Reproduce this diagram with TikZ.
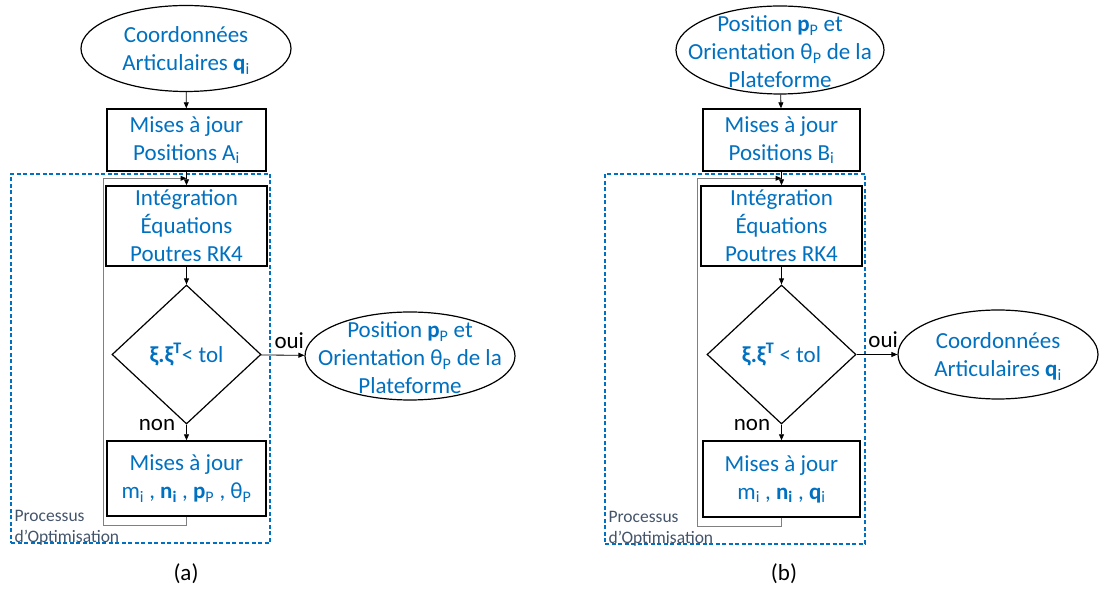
\documentclass[tikz,border=0pt]{standalone}
\usepackage{fontspec}
\setmainfont{Carlito}
\usepackage{tikz}
\usetikzlibrary{shapes.geometric,arrows.meta}
\definecolor{txtblue}{HTML}{0070C0}
\definecolor{notegray}{HTML}{44546A}
\definecolor{loopgray}{HTML}{808080}

\begin{document}
\begin{tikzpicture}[x=1pt, y=1pt,
  term/.style={ellipse, draw, line width=1.2pt, inner sep=0pt},
  termtxt/.style={align=center, text=txtblue, font=\fontsize{23}{28}\selectfont, inner sep=0pt, yshift=-2pt},
  proc/.style={draw, line width=1.4pt, minimum width=159pt, align=center, text=txtblue, font=\fontsize{23}{28}\selectfont, inner sep=1pt},
  dec/.style={diamond, draw, line width=1.2pt, minimum width=149pt, minimum height=139pt, inner sep=0pt, text=txtblue, font=\fontsize{23}{28}\selectfont},
  frame/.style={draw=txtblue, line width=1.2pt, dash pattern=on 4pt off 2.5pt, inner sep=0pt},
  note/.style={align=left, text=notegray, font=\fontsize{17.5}{21}\selectfont, inner sep=0pt},
  arrow/.style={-{Triangle[length=6pt,width=5pt]}, line width=0.8pt},
  loopline/.style={-{Triangle[length=6pt,width=5pt,color=black]}, draw=loopgray, line width=1pt},
  lbl/.style={font=\fontsize{23}{28}\selectfont, inner sep=1pt},
  captxt/.style={font=\fontsize{23}{28}\selectfont}
]
\useasboundingbox (0,0) rectangle (1100,589);

% (a) modele geometrique direct
\node[frame, minimum width=259pt, minimum height=369pt] (cadreA) at (140.5,230.5) {};
\node[term, minimum width=210pt, minimum height=86pt,
  label={[termtxt]center:{Coordonnées\\Articulaires \textbf{q}\textsubscript{i}}}] (artA) at (186,540.5) {};
\node[proc, minimum height=62pt] (majA) at (186.5,449) {Mises à jour\\Positions A\textsubscript{i}};
\node[proc, minimum width=161pt, minimum height=80pt] (intA) at (186.5,363) {Intégration\\Équations\\Poutres RK4};
\node[dec] (testA) at (186.5,234.5) {\textbf{ξ.ξ\textsuperscript{T}}< tol};
\node[proc, minimum height=75pt] (optA) at (186.5,110.5) {Mises à jour\\m\textsubscript{i} , \textbf{n\textsubscript{i}} , \textbf{p}\textsubscript{P} , θ\textsubscript{P}};
\node[term, minimum width=210pt, minimum height=88pt,
  label={[termtxt]center:{Position \textbf{p}\textsubscript{P} et\\Orientation θ\textsubscript{P} de la\\Plateforme}}] (poseA) at (410,233) {};
\node[note, anchor=south west] (noteA) at ([shift={(4pt,-2pt)}]cadreA.south west) {Processus\\d’Optimisation};
\node[captxt] (capA) at (186,15) {(a)};
\coordinate (retA) at (103,63);

\draw[arrow] (artA) -- (majA);
\draw[arrow] (majA) -- (intA);
\draw[arrow] (intA) -- (testA);
\draw[arrow] (testA) -- node[lbl, above=5pt, pos=0.65]{oui} (poseA);
\draw[arrow] (testA) -- node[lbl, left=10pt, pos=0]{non} (optA);
\draw[loopline] (optA.south) |- (retA) |- ([yshift=7pt]intA.north);

% (b) modele geometrique inverse
\node[frame, minimum width=260pt, minimum height=370pt] (cadreB) at (735,230) {};
\node[term, minimum width=208pt, minimum height=88pt,
  label={[termtxt]center:{Position \textbf{p}\textsubscript{P} et\\Orientation θ\textsubscript{P} de la\\Plateforme}}] (poseB) at (780,539) {};
\node[proc, minimum width=157pt, minimum height=62pt] (majB) at (781.5,449) {Mises à jour\\Positions B\textsubscript{i}};
\node[proc, minimum width=161pt, minimum height=80pt] (intB) at (781.5,363) {Intégration\\Équations\\Poutres RK4};
\node[dec] (testB) at (781.5,234.5) {\textbf{ξ.ξ\textsuperscript{T}} < tol};
\node[proc, minimum width=157pt, minimum height=76pt] (optB) at (781.5,110) {Mises à jour\\m\textsubscript{i} , \textbf{n\textsubscript{i}} , \textbf{q}\textsubscript{i}};
\node[term, minimum width=200pt, minimum height=89pt,
  label={[termtxt]center:{Coordonnées\\Articulaires \textbf{q}\textsubscript{i}}}] (artB) at (998,234.5) {};
\node[note, anchor=south west] (noteB) at ([shift={(4pt,-2pt)}]cadreB.south west) {Processus\\d’Optimisation};
\node[captxt] (capB) at (784,15) {(b)};
\coordinate (retB) at (697,62);

\draw[arrow] (poseB) -- (majB);
\draw[arrow] (majB) -- (intB);
\draw[arrow] (intB) -- (testB);
\draw[arrow] (testB) -- node[lbl, above=5pt, pos=0.65]{oui} (artB);
\draw[arrow] (testB) -- node[lbl, left=10pt, pos=0]{non} (optB);
\draw[loopline] (optB.south) |- (retB) |- ([yshift=7pt]intB.north);
\end{tikzpicture}
\end{document}
